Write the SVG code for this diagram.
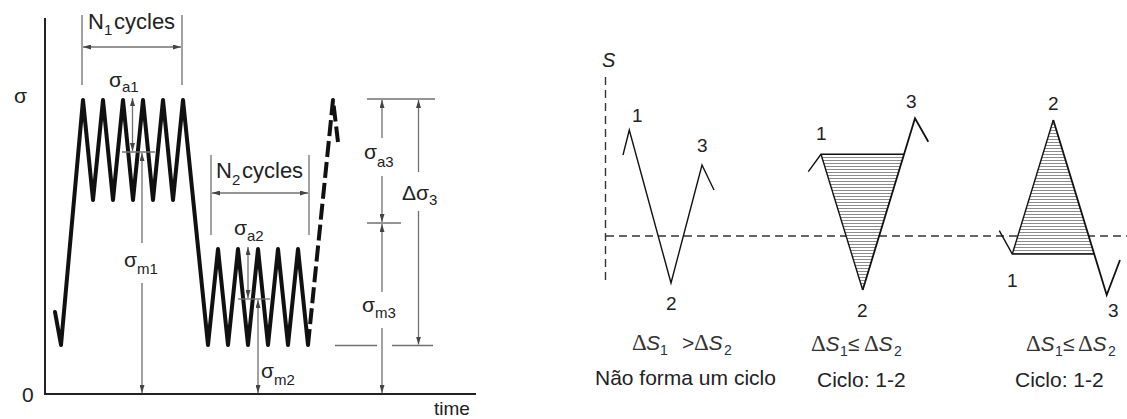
<svg xmlns="http://www.w3.org/2000/svg" width="1127" height="419" viewBox="0 0 1127 419">
<style>
  .t{font-family:"Liberation Sans",Arial,sans-serif;fill:#222}
  .lab{font-size:21px}
  .sub{font-size:15px}
  .big{font-size:22px}
  .num{font-size:19px}
  .cap{font-size:21px}
  .it{font-style:italic}
  .ser{font-family:"Liberation Serif","Times New Roman",serif;font-size:23px}
  .fm{fill:#333;font-size:21px}
  .fs{fill:#27304a;font-size:14px}
  .wave{fill:none;stroke:#111;stroke-width:4;stroke-linejoin:round;stroke-linecap:round}
  .dim{fill:none;stroke:#707070;stroke-width:1.3}
  .arr{marker-end:url(#ah)}
  .arr2{marker-start:url(#ah);marker-end:url(#ah)}
  .arrs{marker-start:url(#ah)}
  .axis{fill:none;stroke:#222;stroke-width:2}
  .thin{fill:none;stroke:#111;stroke-width:1.4;stroke-linejoin:miter}
  .dash{fill:none;stroke:#333;stroke-width:1.4;stroke-dasharray:8 5}
</style>
<defs>
  <marker id="ah" viewBox="0 0 8 5" refX="8" refY="2.5" markerWidth="8" markerHeight="5" markerUnits="userSpaceOnUse" orient="auto-start-reverse">
    <path d="M0,0 L8,2.5 L0,5 z" fill="#444"/>
  </marker>
  <pattern id="hatch" patternUnits="userSpaceOnUse" width="10" height="3">
    <rect width="10" height="3" fill="#fff"/>
    <line x1="0" y1="1.5" x2="10" y2="1.5" stroke="#8c8c8c" stroke-width="1"/>
  </pattern>
</defs>

<g id="left-chart">
  <g id="axes">
    <path class="axis" d="M45,18 V394 H476"/>
    <text class="t lab" x="14" y="103">σ</text>
    <text class="t lab" x="22" y="402">0</text>
    <text class="t" style="font-size:19px" x="434" y="415">time</text>
  </g>
  <g id="waveform">
    <polyline class="wave" points="55,312 61,345 83,100 93,200 103,100 113,200 123,100 133,200 143,100 153,200 163,100 173,200 183,100 208,345 218,249 228,345 238,249 248,345 258,249 268,345 278,249 288,345 298,249 308,345"/>
    <polyline class="wave" style="stroke-dasharray:16 5;stroke-linecap:butt" points="308,345 333,100 338,142"/>
  </g>
  <g id="connectors">
    <line class="dim" x1="82" y1="15" x2="82" y2="85"/>
    <line class="dim" x1="182" y1="15" x2="182" y2="85"/>
    <line class="dim arr2" x1="83" y1="47" x2="181" y2="47"/>
    <line class="dim arr2" x1="132.5" y1="98" x2="132.5" y2="151"/>
    <line class="dim" x1="122" y1="152" x2="155" y2="152"/>
    <line class="dim arrs" x1="142" y1="153" x2="142" y2="243"/>
    <line class="dim arr" x1="142" y1="283" x2="142" y2="393"/>
    <line class="dim" x1="211" y1="155" x2="211" y2="235"/>
    <line class="dim" x1="309" y1="155" x2="309" y2="235"/>
    <line class="dim arr2" x1="212" y1="193" x2="308" y2="193"/>
    <line class="dim arr2" x1="248" y1="247" x2="248" y2="298"/>
    <line class="dim" x1="238" y1="299" x2="270" y2="299"/>
    <line class="dim arr2" x1="258" y1="300" x2="258" y2="393"/>
    <line class="dim" x1="367" y1="99" x2="435" y2="99"/>
    <line class="dim arrs" x1="382" y1="100" x2="382" y2="138"/>
    <line class="dim arr" x1="382" y1="176" x2="382" y2="222"/>
    <line class="dim" x1="367" y1="223" x2="401" y2="223"/>
    <line class="dim arrs" x1="382" y1="224" x2="382" y2="292"/>
    <line class="dim arr" x1="382" y1="328" x2="382" y2="393"/>
    <line class="dim" x1="335" y1="345.5" x2="377" y2="345.5"/>
    <line class="dim" x1="392" y1="345.5" x2="433" y2="345.5"/>
    <line class="dim arrs" x1="418.5" y1="100" x2="418.5" y2="172"/>
    <line class="dim arr" x1="418.5" y1="211" x2="418.5" y2="344.5"/>
  </g>
  <g id="labels-left">
    <text class="t big" x="88" y="29">N<tspan class="sub" dy="6">1</tspan><tspan x="114" dy="-6">cycles</tspan></text>
    <text class="t big" x="216" y="178">N<tspan class="sub" dy="7">2</tspan><tspan x="242" dy="-7">cycles</tspan></text>
    <text class="t lab" x="109" y="87">σ<tspan class="sub" dy="5">a1</tspan></text>
    <text class="t lab" x="124" y="267">σ<tspan class="sub" dy="7">m1</tspan></text>
    <text class="t lab" x="234" y="235">σ<tspan class="sub" dy="6">a2</tspan></text>
    <text class="t lab" x="261" y="378">σ<tspan class="sub" dy="7">m2</tspan></text>
    <text class="t lab" x="364" y="159">σ<tspan class="sub" dy="8">a3</tspan></text>
    <text class="t lab" x="362" y="312">σ<tspan class="sub" dy="6">m3</tspan></text>
    <text class="t lab" x="402" y="200">Δσ<tspan class="sub" dy="5">3</tspan></text>
  </g>
</g>

<g id="right-chart">
  <g id="s-axes">
    <text class="t it" style="font-size:20px" x="602" y="67">S</text>
    <line class="dash" x1="605.5" y1="77" x2="605.5" y2="283"/>
    <line class="dash" x1="606" y1="236" x2="1127" y2="236"/>
  </g>
  <g id="panel1">
    <polyline class="thin" points="623,155 629.3,130 671,283 702,165 714,190"/>
    <text class="t num" x="632" y="122">1</text>
    <text class="t num" x="697" y="152">3</text>
    <text class="t num" x="666" y="310">2</text>
    <text class="t fm" y="350"><tspan class="ser" x="632">Δ</tspan><tspan class="it" x="646">S</tspan><tspan class="fs" x="660" y="355">1</tspan><tspan x="682" y="350">&gt;</tspan><tspan class="ser" x="694">Δ</tspan><tspan class="it" x="708.5">S</tspan><tspan class="fs" x="724" y="355">2</tspan></text>
    <text class="t cap" x="595" y="385">Não forma um ciclo</text>
  </g>
  <g id="panel2">
    <polygon points="821,154.3 904,154.3 862.7,290" fill="url(#hatch)"/>
    <polyline class="thin" points="808.3,171.7 821,154.3 904,154.3"/>
    <polyline class="thin" points="821,154.3 862.7,290"/>
    <polyline class="thin" style="stroke-width:1.8" points="862.7,290 915,118.3 928.3,141.7"/>
    <text class="t num" x="816" y="140">1</text>
    <text class="t num" x="906" y="108">3</text>
    <text class="t num" x="857" y="317">2</text>
    <text class="t fm" y="351"><tspan class="ser" x="811">Δ</tspan><tspan class="it" x="825.5">S</tspan><tspan class="fs" x="840" y="356">1</tspan><tspan x="848" y="351">≤</tspan><tspan class="ser" x="864">Δ</tspan><tspan class="it" x="878.5">S</tspan><tspan class="fs" x="894" y="356">2</tspan></text>
    <text class="t cap" x="817" y="387">Ciclo: 1-2</text>
  </g>
  <g id="panel3">
    <polygon points="1012.3,254 1094.2,254 1053.3,120" fill="url(#hatch)"/>
    <polyline class="thin" points="999.3,230.7 1012.3,254 1094.2,254"/>
    <polyline class="thin" points="1012.3,254 1053.3,120"/>
    <polyline class="thin" style="stroke-width:1.8" points="1053.3,120 1106.7,295 1120,260"/>
    <text class="t num" x="1048" y="110">2</text>
    <text class="t num" x="1007" y="287">1</text>
    <text class="t num" x="1108" y="317">3</text>
    <text class="t fm" y="351"><tspan class="ser" x="1026">Δ</tspan><tspan class="it" x="1040.5">S</tspan><tspan class="fs" x="1055" y="356">1</tspan><tspan x="1063" y="351">≤</tspan><tspan class="ser" x="1078">Δ</tspan><tspan class="it" x="1092.5">S</tspan><tspan class="fs" x="1108" y="356">2</tspan></text>
    <text class="t cap" x="1015" y="387">Ciclo: 1-2</text>
  </g>
</g>
</svg>
